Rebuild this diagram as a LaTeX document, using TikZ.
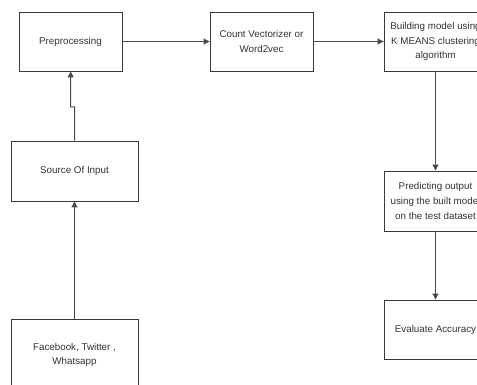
\documentclass[tikz,border=0pt]{standalone}
\usepackage{fontspec}
\setmainfont{Liberation Sans}
\usetikzlibrary{arrows.meta}
\definecolor{boxline}{HTML}{3A3A3A}
\definecolor{txt}{HTML}{333333}
\definecolor{arr}{HTML}{4A4A4A}
\begin{document}
\begin{tikzpicture}[x=1pt,y=-1pt,
  box/.style={draw=boxline,line width=0.9pt,rectangle,inner sep=0pt,
    font=\fontsize{9.8}{14.8}\selectfont,text=txt,align=center},
  conn/.style={draw=arr,line width=1pt,-{Triangle[length=6pt,width=6pt]}}]
\useasboundingbox (0,0) rectangle (477,385);
\clip (0,0) rectangle (477,385);
\fill[white] (0,0) rectangle (477,385);
\node[box,minimum width=103pt,minimum height=59pt] (pre) at (70.5,41.5) {Preprocessing};
\node[box,minimum width=103pt,minimum height=59pt] (cv) at (261.5,41.5) {Count Vectorizer or\\Word2vec};
\node[box,minimum width=103pt,minimum height=59pt] (bm) at (435.5,41.5) {Building model using\\K MEANS clustering\\algorithm};
\node[box,minimum width=103pt,minimum height=60pt] (po) at (435.5,201) {Predicting output\\using the built model\\on the test dataset};
\node[box,minimum width=103pt,minimum height=59pt] (ea) at (435.5,329.5) {Evaluate Accuracy};
\node[box,minimum width=127pt,minimum height=60pt] (src) at (74.5,171) {Source Of Input};
\node[box,minimum width=127pt,minimum height=72pt] (fb) at (74.5,355) {Facebook, Twitter ,\\Whatsapp};
\coordinate (j1) at (74.7,107);
\coordinate (j2) at (70.7,107);
\draw[conn] (pre.east) -- (cv.west);
\draw[conn] (cv.east) -- (bm.west);
\draw[conn] (bm.south) -- (po.north);
\draw[conn] (po.south) -- (ea.north);
\draw[conn] (fb.north) -- (src.south);
\draw[conn] (src.north) -- (j1) -- (j2) -- (j2 |- pre.south);
\end{tikzpicture}
\end{document}
